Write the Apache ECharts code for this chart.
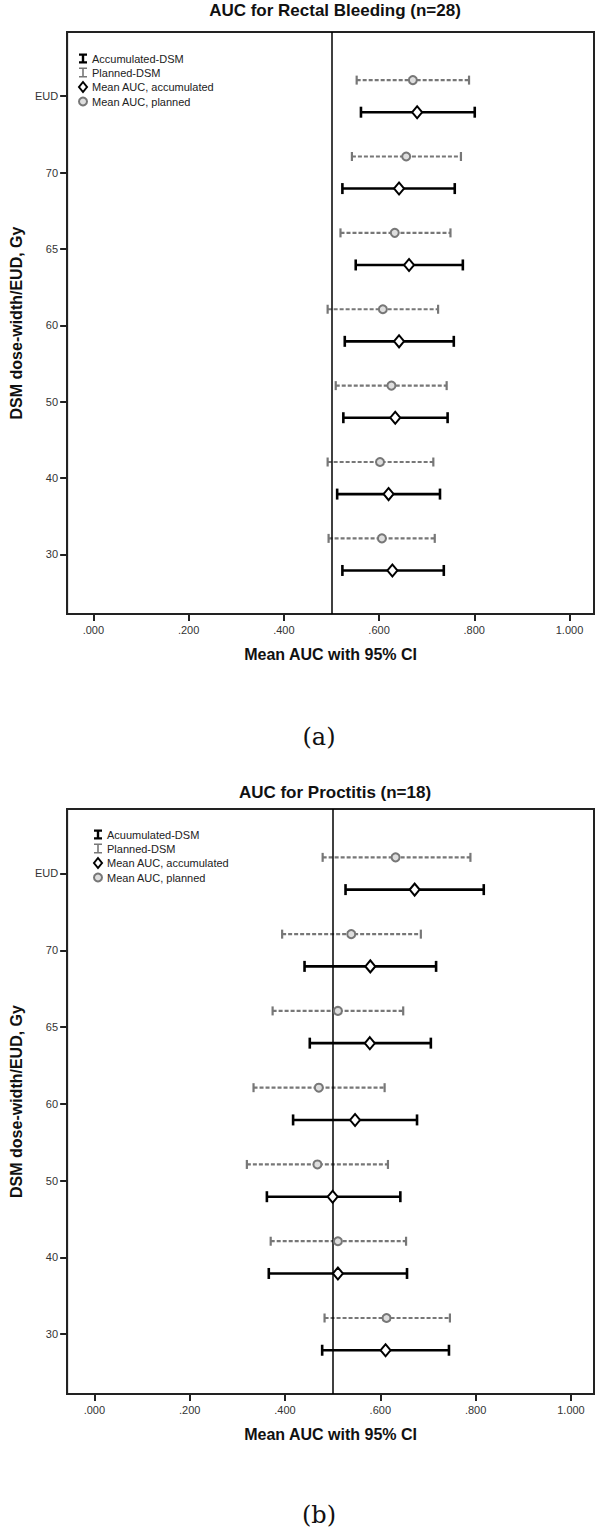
<!DOCTYPE html>
<html><head><meta charset="utf-8">
<script src="https://cdn.jsdelivr.net/npm/echarts@6/dist/echarts.min.js"></script>
<style>html,body{margin:0;padding:0;background:#fff}#c{width:600px;height:1532px}</style>
</head><body><div id="c"></div>
<script>
// ---- data (rows bottom to top) ----
const categories = ['30', '40', '50', '60', '65', '70', 'EUD'];
const xTickValues = [0, 0.2, 0.4, 0.6, 0.8, 1.0];
const xTickLabels = ['.000', '.200', '.400', '.600', '.800', '1.000'];

// (a) Rectal bleeding
const accMeanA = [0.628, 0.620, 0.634, 0.642, 0.663, 0.642, 0.680];
const accLowA  = [0.523, 0.512, 0.525, 0.528, 0.551, 0.523, 0.562];
const accHighA = [0.736, 0.728, 0.744, 0.757, 0.776, 0.759, 0.801];
const plMeanA  = [0.606, 0.602, 0.626, 0.608, 0.633, 0.657, 0.671];
const plLowA   = [0.494, 0.492, 0.509, 0.492, 0.519, 0.543, 0.553];
const plHighA  = [0.717, 0.714, 0.742, 0.724, 0.750, 0.772, 0.789];

// (b) Proctitis
const accMeanB = [0.611, 0.511, 0.500, 0.547, 0.578, 0.579, 0.672];
const accLowB  = [0.478, 0.366, 0.362, 0.417, 0.452, 0.441, 0.527];
const accHighB = [0.744, 0.656, 0.642, 0.677, 0.706, 0.717, 0.817];
const plMeanB  = [0.613, 0.511, 0.468, 0.471, 0.511, 0.539, 0.632];
const plLowB   = [0.483, 0.370, 0.320, 0.334, 0.374, 0.394, 0.479];
const plHighB  = [0.746, 0.654, 0.616, 0.609, 0.648, 0.685, 0.789];

const namesA = ['Accumulated-DSM', 'Planned-DSM', 'Mean AUC, accumulated', 'Mean AUC, planned'];
const namesB = ['Acuumulated-DSM', 'Planned-DSM', 'Mean AUC, accumulated', 'Mean AUC, planned'];

// ---- styling ----
const FONT = '"Liberation Sans", Arial, sans-serif';
const GRAY = '#777777';
const OFF = 0.21; // vertical offset of the two bars around each tick
const Y_MIN = -0.78, Y_MAX = 6.84;
const X_EXT = [[-0.0552, 1.0515], [-0.0571, 1.0483]];

function errRender(color, lw, cap, dash) {
  return function (params, api) {
    const y = api.value(0);
    const lo = api.coord([api.value(1), y]);
    const hi = api.coord([api.value(2), y]);
    const capStyle = { stroke: color, lineWidth: lw };
    return {
      type: 'group',
      children: [
        { type: 'line', shape: { x1: lo[0], y1: lo[1], x2: hi[0], y2: hi[1] },
          style: { stroke: color, lineWidth: lw, lineDash: dash } },
        { type: 'line', shape: { x1: lo[0], y1: lo[1] - cap / 2, x2: lo[0], y2: lo[1] + cap / 2 }, style: capStyle },
        { type: 'line', shape: { x1: hi[0], y1: hi[1] - cap / 2, x2: hi[0], y2: hi[1] + cap / 2 }, style: capStyle }
      ]
    };
  };
}

function errData(low, high, off) {
  return low.map((l, i) => [i + off, l, high[i]]);
}
function meanData(mean, off) {
  return mean.map((m, i) => [m, i + off]);
}

function seriesFor(idx, names, accLow, accHigh, accMean, plLow, plHigh, plMean) {
  return [
    { type: 'scatter', xAxisIndex: idx, yAxisIndex: idx, data: [], z: 1, silent: true,
      markLine: { silent: true, symbol: ['none', 'none'], label: { show: false },
        lineStyle: { color: '#000', width: 1.5, type: 'solid' },
        data: [{ xAxis: 0.5 }] } },
    { name: names[0], type: 'custom', xAxisIndex: idx, yAxisIndex: idx, z: 3,
      itemStyle: { color: '#000' },
      renderItem: errRender('#000', 2.6, 11, null),
      encode: { x: [1, 2], y: 0 },
      data: errData(accLow, accHigh, -OFF) },
    { name: names[1], type: 'custom', xAxisIndex: idx, yAxisIndex: idx, z: 3,
      itemStyle: { color: GRAY },
      renderItem: errRender(GRAY, 2.2, 9, [4, 2]),
      encode: { x: [1, 2], y: 0 },
      data: errData(plLow, plHigh, OFF) },
    { name: names[2], type: 'scatter', xAxisIndex: idx, yAxisIndex: idx, z: 5,
      symbol: 'diamond', symbolSize: [10, 12],
      itemStyle: { color: '#fff', borderColor: '#000', borderWidth: 2, opacity: 1 },
      data: meanData(accMean, -OFF) },
    { name: names[3], type: 'scatter', xAxisIndex: idx, yAxisIndex: idx, z: 5,
      symbol: 'circle', symbolSize: 8,
      itemStyle: { color: '#dedede', borderColor: GRAY, borderWidth: 2, opacity: 1 },
      data: meanData(plMean, OFF) }
  ];
}

function xAxisFor(idx) {
  return {
    type: 'value', gridIndex: idx, min: X_EXT[idx][0], max: X_EXT[idx][1],
    splitLine: { show: false },
    axisLine: { show: true, onZero: false, lineStyle: { color: '#222', width: 2 } },
    axisTick: { show: true, length: 7, customValues: xTickValues, lineStyle: { color: '#222', width: 2 } },
    axisLabel: { customValues: xTickValues, margin: 10, fontSize: 11, color: '#333', fontFamily: FONT,
      formatter: v => xTickLabels[Math.round(v * 5)] },
    name: 'Mean AUC with 95% CI', nameLocation: 'middle', nameGap: 32,
    nameTextStyle: { fontSize: 16, fontWeight: 'bold', color: '#111', fontFamily: FONT }
  };
}
function yAxisFor(idx) {
  return {
    type: 'value', gridIndex: idx, min: Y_MIN, max: Y_MAX,
    splitLine: { show: false },
    axisLine: { show: true, onZero: false, lineStyle: { color: '#222', width: 2 } },
    axisTick: { show: true, length: 7, customValues: categories.map((c, i) => i), lineStyle: { color: '#222', width: 2 } },
    axisLabel: { customValues: categories.map((c, i) => i), margin: 9, fontSize: 11, color: '#333', fontFamily: FONT,
      formatter: v => categories[Math.round(v)] },
    name: 'DSM dose-width/EUD, Gy', nameLocation: 'middle', nameGap: 38, nameRotate: 90,
    nameTextStyle: { fontSize: 16, fontWeight: 'bold', color: '#111', fontFamily: FONT }
  };
}

function legendFor(names, left, top) {
  return {
    orient: 'vertical', left: left, top: top, padding: 0, itemWidth: 8, itemHeight: 10, itemGap: 3,
    selectedMode: false,
    textStyle: { fontSize: 11, color: '#222', fontFamily: FONT, lineHeight: 11 },
    data: [
      { name: names[0], icon: 'path://M0,0L8,0L8,2.2L5.2,2.2L5.2,7.8L8,7.8L8,10L0,10L0,7.8L2.8,7.8L2.8,2.2L0,2.2Z',
        itemStyle: { color: '#000', borderWidth: 0 } },
      { name: names[1], icon: 'path://M0,0L8,0L8,1.5L4.8,1.5L4.8,8.5L8,8.5L8,10L0,10L0,8.5L3.2,8.5L3.2,1.5L0,1.5Z',
        itemStyle: { color: GRAY, borderWidth: 0 } },
      { name: names[2], icon: 'diamond',
        itemStyle: { color: '#fff', borderColor: '#000', borderWidth: 2 } },
      { name: names[3], icon: 'circle',
        itemStyle: { color: '#dedede', borderColor: GRAY, borderWidth: 2 } }
    ]
  };
}

const chart = echarts.init(document.getElementById('c'), null, { renderer: 'svg' });
chart.setOption({
  animation: false,
  grid: [
    { left: 57, top: 32, width: 537, height: 582, show: true, borderColor: '#222', borderWidth: 2 },
    { left: 55, top: 809, width: 539, height: 585, show: true, borderColor: '#222', borderWidth: 2 }
  ],
  xAxis: [xAxisFor(0), xAxisFor(1)],
  yAxis: [yAxisFor(0), yAxisFor(1)],
  legend: [legendFor(namesA, 78, 53), legendFor(namesB, 93, 829)],
  graphic: [
    { type: 'text', x: 335, y: 10, style: { text: 'AUC for Rectal Bleeding (n=28)', fill: '#111',
      font: 'bold 17px ' + FONT, textAlign: 'center', textVerticalAlign: 'middle' } },
    { type: 'text', x: 319, y: 737, style: { text: '(a)', fill: '#111',
      font: '24px "DejaVu Serif", serif', textAlign: 'center', textVerticalAlign: 'middle' } },
    { type: 'text', x: 335, y: 792, style: { text: 'AUC for Proctitis (n=18)', fill: '#111',
      font: 'bold 17px ' + FONT, textAlign: 'center', textVerticalAlign: 'middle' } },
    { type: 'text', x: 319, y: 1515, style: { text: '(b)', fill: '#111',
      font: '24px "DejaVu Serif", serif', textAlign: 'center', textVerticalAlign: 'middle' } }
  ],
  series: [
    ...seriesFor(0, namesA, accLowA, accHighA, accMeanA, plLowA, plHighA, plMeanA),
    ...seriesFor(1, namesB, accLowB, accHighB, accMeanB, plLowB, plHighB, plMeanB)
  ]
});
</script>
</body></html>
